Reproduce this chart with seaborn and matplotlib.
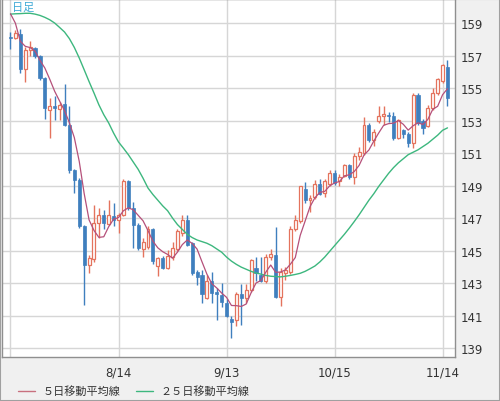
import matplotlib
matplotlib.use("Agg")
import matplotlib.pyplot as plt
import numpy as np
import pandas as pd
import seaborn as sns
from matplotlib.lines import Line2D
from matplotlib.patches import Rectangle

# daily candles, 2024-07-15 .. 2024-11-15
opens = [158.15, 158.1, 158.35, 156.15, 157.35, 157.45, 156.95, 155.6, 153.65, 153.9,
         153.7, 154.0, 152.7, 149.95, 149.35, 146.5, 144.1, 144.5, 146.7, 147.2,
         146.65, 147.15, 146.85, 147.2, 149.25, 147.6, 146.6, 145.1, 145.2, 146.3,
         144.05, 144.55, 143.95, 144.6, 145.1, 146.1, 146.9, 145.45, 143.7, 143.5,
         142.1, 143.1, 142.45, 142.25, 141.75, 140.8, 140.7, 142.35, 142.05, 142.55,
         143.9, 143.5, 143.15, 144.6, 144.7, 142.15, 143.6, 143.7, 146.35, 146.8,
         148.8, 148.1, 148.3, 149.1, 148.55, 149.1, 149.75, 149.25, 149.6, 150.25,
         149.55, 150.8, 151.0, 152.75, 151.8, 153.0, 153.25, 153.35, 153.3, 151.95,
         152.4, 152.15, 151.6, 154.6, 153.0, 152.65, 153.75, 154.7, 155.45, 156.3]
highs = [158.45, 158.6, 158.65, 157.5, 157.9, 157.5, 157.05, 155.65, 154.4, 154.5,
         154.15, 155.25, 153.9, 150.0, 149.45, 146.55, 144.75, 147.8, 147.6, 147.5,
         148.1, 147.9, 147.3, 149.4, 149.35, 148.0, 146.7, 145.8, 146.5, 146.4,
         144.6, 144.65, 145.05, 145.55, 146.3, 147.2, 147.2, 145.55, 143.8, 143.8,
         143.5, 143.7, 142.7, 143.0, 142.0, 141.0, 142.45, 142.95, 142.95, 144.5,
         144.6, 144.6, 144.8, 145.1, 146.45, 143.9, 144.0, 146.5, 147.2, 149.0,
         149.2, 148.4, 149.35, 149.4, 149.4, 149.95, 149.95, 149.7, 150.3, 150.35,
         151.0, 151.35, 153.2, 152.85, 152.5, 153.9, 153.9, 153.5, 153.55, 153.1,
         152.45, 152.3, 154.7, 154.7, 153.1, 153.95, 155.0, 155.6, 156.5, 156.75]
lows = [157.4, 158.0, 155.95, 155.4, 156.95, 156.85, 155.5, 153.1, 151.9, 153.05,
        153.05, 152.65, 149.75, 148.55, 146.4, 141.65, 143.6, 144.3, 145.8, 146.3,
        146.55, 146.5, 146.05, 147.1, 147.5, 145.15, 145.05, 144.6, 145.1, 144.2,
        143.45, 143.85, 143.85, 144.4, 144.95, 145.9, 145.25, 143.5, 142.9, 141.75,
        142.0, 141.8, 140.75, 141.5, 140.9, 139.6, 140.35, 140.4, 141.75, 142.45,
        143.15, 143.05, 143.0, 144.4, 142.05, 141.6, 143.2, 143.55, 146.2, 146.7,
        147.9, 147.35, 148.2, 148.4, 148.3, 149.0, 149.05, 149.0, 149.5, 149.4,
        149.1, 150.6, 150.9, 151.7, 151.45, 152.85, 152.75, 152.9, 151.8, 151.85,
        151.9, 151.4, 151.3, 152.7, 152.2, 152.6, 153.65, 154.6, 155.3, 153.9]
closes = [158.05, 158.4, 156.15, 157.35, 157.5, 156.95, 155.6, 153.75, 153.9, 153.8,
          153.95, 152.7, 149.95, 149.35, 146.5, 144.1, 144.55, 146.7, 147.2, 146.7,
          147.2, 146.85, 147.2, 149.3, 147.6, 146.6, 145.15, 145.5, 146.3, 144.35,
          144.55, 143.95, 144.65, 145.15, 146.2, 146.9, 145.35, 143.6, 143.4, 142.3,
          143.1, 142.4, 142.3, 141.85, 140.95, 140.6, 142.35, 142.05, 142.6, 144.4,
          143.6, 143.15, 144.6, 144.8, 142.15, 143.7, 143.8, 146.35, 146.85, 148.95,
          148.1, 148.25, 149.1, 148.5, 149.25, 149.8, 149.15, 149.55, 150.25, 149.55,
          150.8, 151.05, 152.75, 151.8, 152.3, 153.3, 153.4, 153.25, 151.95, 153.05,
          152.2, 151.6, 154.6, 152.85, 152.55, 153.75, 154.7, 155.55, 156.4, 154.4]
# closes just before the window, inferred from where the 5-day line starts
lead_closes = [161.3, 161.7, 158.9, 157.9]
# 25-day line
ma25 = [159.55, 159.57, 159.58, 159.6, 159.6, 159.55, 159.47, 159.35, 159.2, 159.0,
        158.73, 158.45, 158.04, 157.5, 156.85, 156.13, 155.4, 154.7, 153.97, 153.36,
        152.85, 152.23, 151.68, 151.3, 150.9, 150.45, 150.0, 149.45, 148.85, 148.45,
        148.1, 147.75, 147.45, 147.0, 146.6, 146.3, 146.0, 145.8, 145.65, 145.55,
        145.45, 145.3, 145.1, 144.9, 144.6, 144.35, 144.15, 143.98, 143.85, 143.72,
        143.62, 143.55, 143.47, 143.42, 143.4, 143.38, 143.42, 143.47, 143.53, 143.6,
        143.72, 143.88, 144.05, 144.3, 144.6, 144.95, 145.3, 145.65, 146.0, 146.38,
        146.78, 147.2, 147.65, 148.1, 148.5, 148.95, 149.35, 149.75, 150.1, 150.4,
        150.65, 150.9, 151.05, 151.2, 151.4, 151.6, 151.85, 152.1, 152.4, 152.55]

tick_dates = ["7/15", "8/14", "9/13", "10/15", "11/14"]
tick_labels = ["", "8/14", "9/13", "10/15", "11/14"]
price_ticks = [139, 141, 143, 145, 147, 149, 151, 153, 155, 157, 159]

dates = pd.bdate_range("2024-07-15", "2024-11-15")
df = pd.DataFrame({"date": dates, "open": opens, "high": highs,
                   "low": lows, "close": closes, "ma25": ma25})
df["pos"] = np.arange(len(df))
df["ma5"] = (pd.Series(lead_closes + closes).rolling(5).mean()
             .iloc[len(lead_closes):].to_numpy())
df["label"] = [f"{d.month}/{d.day}" for d in df["date"]]

UP = "#e4735d"
DOWN = "#3f7fbe"
MA5_C = "#b5507a"
MA25_C = "#3db77e"

sns.set_style("white")
plt.rcParams["font.family"] = ["DejaVu Sans"]

fig = plt.figure(figsize=(5, 4.02), dpi=100, facecolor="#f0f0f0")
ax = fig.add_axes([2 / 500, 1 - 358 / 402, 453 / 500, 358 / 402])
ax.set_facecolor("white")

up = df[df["close"] >= df["open"]]
dn = df[df["close"] < df["open"]]

ax.vlines(up["pos"], up["low"], up["high"], color=UP, lw=1, zorder=2)
ax.vlines(dn["pos"], dn["low"], dn["high"], color=DOWN, lw=1, zorder=2)
ax.bar(up["pos"], np.maximum(up["close"] - up["open"], 0.06), bottom=up["open"],
       width=0.6, facecolor="white", edgecolor=UP, lw=0.9, zorder=2.5)
ax.bar(dn["pos"], np.maximum(dn["open"] - dn["close"], 0.06), bottom=dn["close"],
       width=0.64, facecolor=DOWN, edgecolor=DOWN, lw=0.5, zorder=2.5)

sns.lineplot(data=df, x="pos", y="ma25", color=MA25_C, lw=1, ax=ax, zorder=3)
sns.lineplot(data=df, x="pos", y="ma5", color=MA5_C, lw=0.9, ax=ax, zorder=3.2)

ax.set_xlim(-1.73, 90.53)
ax.set_ylim(138.45, 160.48)
xt = [int(df.index[df["label"] == t][0]) for t in tick_dates]
ax.set_xticks(xt)
ax.set_xticklabels(tick_labels)
ax.set_yticks(price_ticks)
ax.yaxis.tick_right()
ax.set_xlabel("")
ax.set_ylabel("")
ax.grid(True, color="#d6d6d6", lw=1)
ax.set_axisbelow(True)
ax.tick_params(axis="both", length=0, labelsize=8.5, colors="#333333")
ax.tick_params(axis="x", pad=6)
ax.tick_params(axis="y", pad=4)
for s in ax.spines.values():
    s.set_visible(True)
    s.set_color("#8f8f8f")
    s.set_linewidth(1)

fig.text(12 / 500, 1 - 7.5 / 402, "日足", color="#3fa9d6", fontsize=8,
         va="center", ha="left", family=["Noto Sans CJK JP", "DejaVu Sans"])

handles = [Line2D([], [], color="#c8707e", lw=1),
           Line2D([], [], color=MA25_C, lw=1)]
fig.legend(handles, ["５日移動平均線", "２５日移動平均線"], loc="center left",
           bbox_to_anchor=(8 / 500, 10 / 402), ncol=2, frameon=False,
           handlelength=1.5, handletextpad=0.7, columnspacing=1.4,
           prop={"family": ["Noto Sans CJK JP", "DejaVu Sans"], "size": 8},
           labelcolor="#333333")

fig.patches.append(Rectangle((0, 0), 1, 1, transform=fig.transFigure,
                             fill=False, edgecolor="#a0a0a0", lw=1.5))

fig.savefig("out.png", dpi=100, facecolor=fig.get_facecolor())
